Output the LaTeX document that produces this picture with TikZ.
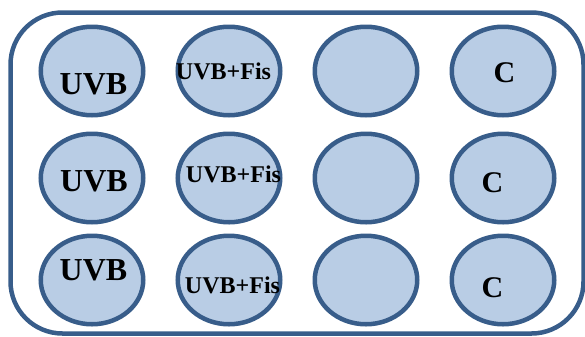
\documentclass[tikz,border=0pt]{standalone}
\usepackage{fontspec}
\setmainfont{Liberation Serif}
\usetikzlibrary{shapes.geometric}
\definecolor{wellfill}{HTML}{B9CDE5}
\definecolor{welledge}{HTML}{385D8A}
\tikzset{
  well/.style={ellipse, draw=welledge, fill=wellfill, line width=4.5bp,
    minimum width=102.5bp, minimum height=88.5bp, inner sep=0pt},
  lblbig/.style={anchor=base, inner sep=0pt, font=\bfseries\fontsize{32bp}{36bp}\selectfont},
  lblmid/.style={anchor=base, inner sep=0pt, font=\bfseries\fontsize{24bp}{28bp}\selectfont},
  lblc/.style={anchor=base, inner sep=0pt, font=\bfseries\fontsize{30bp}{34bp}\selectfont},
}
\begin{document}
\begin{tikzpicture}[x=1bp,y=-1bp]
\useasboundingbox (0,0) rectangle (585,336);
\draw[welledge, line width=4.5bp, rounded corners=52bp] (10.5,12.5) rectangle (583.5,333.5);
% wells
\node[well] (e11) at (92,71) {};
\node[well] (e12) at (229,71) {};
\node[well] (e13) at (366,71) {};
\node[well] (e14) at (503,71) {};
\node[well] (e21) at (92,178) {};
\node[well] (e22) at (229,178) {};
\node[well] (e23) at (366,178) {};
\node[well] (e24) at (503,178) {};
\node[well] (e31) at (92,280) {};
\node[well] (e32) at (229,280) {};
\node[well] (e33) at (366,280) {};
\node[well] (e34) at (503,280) {};
% labels
\node[lblbig] (t11) at (93.5,94) {UVB};
\node[lblbig] (t21) at (94,191) {UVB};
\node[lblbig] (t31) at (93.5,280) {UVB};
\node[lblmid] (t12) at (223.5,79) {UVB+Fis};
\node[lblmid] (t22) at (233.5,182) {UVB+Fis};
\node[lblmid] (t32) at (232.5,293) {UVB+Fis};
\node[lblc] (t14) at (504.5,82) {C};
\node[lblc] (t24) at (492.5,192) {C};
\node[lblc] (t34) at (492.5,297) {C};
\end{tikzpicture}
\end{document}
